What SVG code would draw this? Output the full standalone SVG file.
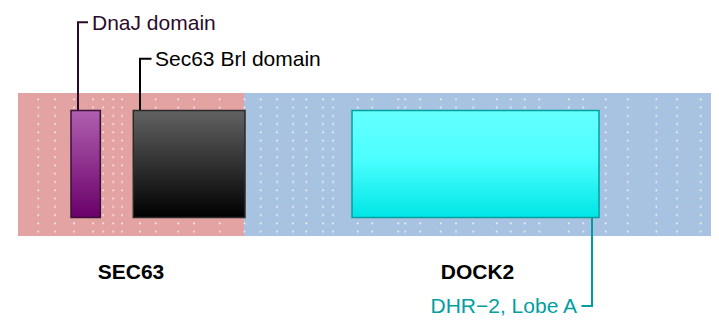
<svg xmlns="http://www.w3.org/2000/svg" width="719" height="326" viewBox="0 0 719 326">
<style>
text{font-family:"Liberation Sans",Arial,sans-serif;font-size:21px}
.lbl{font-weight:bold;fill:#000;text-anchor:middle}
.dot{fill:#fff;fill-opacity:0.85}
</style>
<defs>
<linearGradient id="gPurple" x1="0" y1="0" x2="0" y2="1"><stop offset="0" stop-color="#b060b0"/><stop offset="1" stop-color="#6a006a"/></linearGradient>
<linearGradient id="gBlack" x1="0" y1="0" x2="0" y2="1"><stop offset="0" stop-color="#626262"/><stop offset="1" stop-color="#000"/></linearGradient>
<linearGradient id="gCyan" x1="0" y1="0" x2="0" y2="1"><stop offset="0" stop-color="#66ffff"/><stop offset="0.45" stop-color="#4cffff"/><stop offset="1" stop-color="#00e5e5"/></linearGradient>
<pattern id="dots" patternUnits="userSpaceOnUse" x="0" y="95.3" width="719" height="8.27">
<g class="dot">
<rect x="37.5" y="3.2" width="1.6" height="1.6"/><rect x="54.2" y="3.2" width="1.6" height="1.6"/><rect x="73.2" y="3.2" width="1.6" height="1.6"/><rect x="92.2" y="3.2" width="1.6" height="1.6"/><rect x="102.5" y="3.2" width="1.6" height="1.6"/><rect x="112.5" y="3.2" width="1.6" height="1.6"/><rect x="121.2" y="3.2" width="1.6" height="1.6"/><rect x="139.2" y="3.2" width="1.6" height="1.6"/><rect x="154.9" y="3.2" width="1.6" height="1.6"/><rect x="177.5" y="3.2" width="1.6" height="1.6"/><rect x="193.2" y="3.2" width="1.6" height="1.6"/><rect x="218.9" y="3.2" width="1.6" height="1.6"/><rect x="243.7" y="3.2" width="1.6" height="1.6"/>
<rect x="259.9" y="3.2" width="1.6" height="1.6"/><rect x="276.2" y="3.2" width="1.6" height="1.6"/><rect x="292.2" y="3.2" width="1.6" height="1.6"/><rect x="305.5" y="3.2" width="1.6" height="1.6"/><rect x="322.2" y="3.2" width="1.6" height="1.6"/><rect x="332.2" y="3.2" width="1.6" height="1.6"/><rect x="356.9" y="3.2" width="1.6" height="1.6"/><rect x="371.5" y="3.2" width="1.6" height="1.6"/><rect x="397.5" y="3.2" width="1.6" height="1.6"/><rect x="404.5" y="3.2" width="1.6" height="1.6"/><rect x="419.5" y="3.2" width="1.6" height="1.6"/><rect x="439.9" y="3.2" width="1.6" height="1.6"/><rect x="455.2" y="3.2" width="1.6" height="1.6"/><rect x="472.5" y="3.2" width="1.6" height="1.6"/><rect x="495.9" y="3.2" width="1.6" height="1.6"/><rect x="509.9" y="3.2" width="1.6" height="1.6"/><rect x="523.9" y="3.2" width="1.6" height="1.6"/><rect x="538.5" y="3.2" width="1.6" height="1.6"/><rect x="567.9" y="3.2" width="1.6" height="1.6"/><rect x="582.5" y="3.2" width="1.6" height="1.6"/><rect x="604.9" y="3.2" width="1.6" height="1.6"/><rect x="626.9" y="3.2" width="1.6" height="1.6"/><rect x="655.5" y="3.2" width="1.6" height="1.6"/><rect x="676.2" y="3.2" width="1.6" height="1.6"/><rect x="699.9" y="3.2" width="1.6" height="1.6"/>
</g>
</pattern>
</defs>
<g id="background">
<rect x="18" y="93" width="226" height="143" fill="#e4a3a3"/>
<rect x="244" y="93" width="467" height="143" fill="#a8c3e2"/>
<rect x="18" y="95.3" width="693" height="140.6" fill="url(#dots)"/>
</g>
<g id="connectors" fill="none" stroke-width="2">
<polyline points="78,110 78,22.3 88,22.3" stroke="#2a0a2a"/>
<polyline points="140,110 140,58.7 151.5,58.7" stroke="#000"/>
<polyline points="592,218 592,306 581.5,306" stroke="#009e9e"/>
</g>
<g id="dnaj">
<rect x="71" y="110.5" width="29.3" height="107" fill="url(#gPurple)" stroke="#3a123a" stroke-width="1.5"/>
<text x="92" y="30" fill="#2b0b2b">DnaJ domain</text>
</g>
<g id="sec63brl">
<rect x="133.3" y="110.5" width="111.7" height="107" fill="url(#gBlack)" stroke="#2a2a2a" stroke-width="1.5"/>
<text x="155" y="65.7" fill="#000">Sec63 Brl domain</text>
</g>
<g id="dhr2">
<rect x="352" y="110.5" width="247" height="107" fill="url(#gCyan)" stroke="#00a0a0" stroke-width="1.5"/>
<text x="577" y="313.3" fill="#00a0a0" text-anchor="end">DHR−2, Lobe A</text>
</g>
<g id="sec63"><text class="lbl" x="131" y="279">SEC63</text></g>
<g id="dock2"><text class="lbl" x="477.5" y="279">DOCK2</text></g>
</svg>
